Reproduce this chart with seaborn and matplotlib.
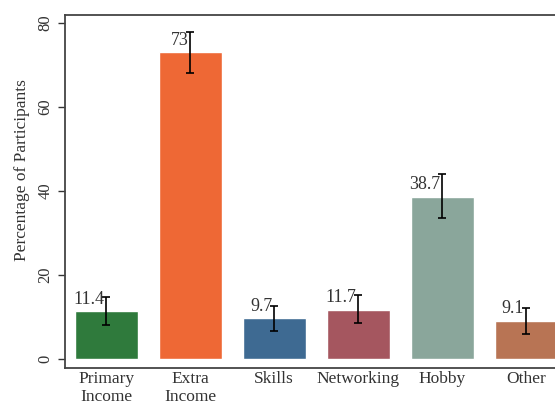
import pandas as pd
import matplotlib.pyplot as plt
import seaborn as sns

# Values
categories = ['Primary\nIncome', 'Extra\nIncome', 'Skills', 'Networking', 'Hobby', 'Other']
percent = [11.4, 73, 9.7, 11.7, 38.7, 9.1]
err_low = [8.1, 68.0, 6.7, 8.5, 33.6, 6.1]
err_high = [14.8, 77.8, 12.7, 15.2, 44.0, 12.3]
labels = ['11.4', '73', '9.7', '11.7', '38.7', '9.1']
colors = ['#2f7a3c', '#ee6835', '#3e6a92', '#a5565f', '#8aa69b', '#b87454']

df = pd.DataFrame({'Reason': categories, 'Percent': percent})

sns.set_style('white')
plt.rcParams['font.family'] = ['Liberation Serif', 'DejaVu Serif']

fig = plt.figure(figsize=(5.55, 4.04), dpi=100)
ax = fig.add_axes([0.117, 0.089, 0.905, 0.874])

sns.barplot(data=df, x='Reason', y='Percent', hue='Reason', palette=colors,
            width=0.75, saturation=1, legend=False, ax=ax)

# confidence intervals
for i in range(len(categories)):
    ax.errorbar(i, percent[i], yerr=[[percent[i] - err_low[i]], [err_high[i] - percent[i]]],
                fmt='none', ecolor='black', elinewidth=1.2, capsize=3, capthick=1.2)
    ax.text(i - 0.02, percent[i] + 0.9, labels[i], ha='right', va='bottom',
            fontsize=13, color='#333333')

ax.set_xlim(-0.49, 5.49)
ax.set_ylim(-2.1, 81.9)
ax.set_yticks([0, 20, 40, 60, 80])
ax.set_ylabel('Percentage of Participants', fontsize=12.5, color='#333333')
ax.yaxis.set_label_coords(-0.07, 0.56)
ax.set_xlabel('')
for lab in ax.get_yticklabels():
    lab.set_rotation(90)
    lab.set_va('center')
ax.tick_params(axis='y', length=5, width=1, colors='#333333', labelsize=12, direction='out', left=True)
ax.tick_params(axis='x', length=0, labelsize=12.5, labelcolor='#333333', pad=2)
for s in ax.spines.values():
    s.set_color('#444444')
    s.set_linewidth(1.3)
ax.grid(False)

plt.savefig('out.png', dpi=100)
